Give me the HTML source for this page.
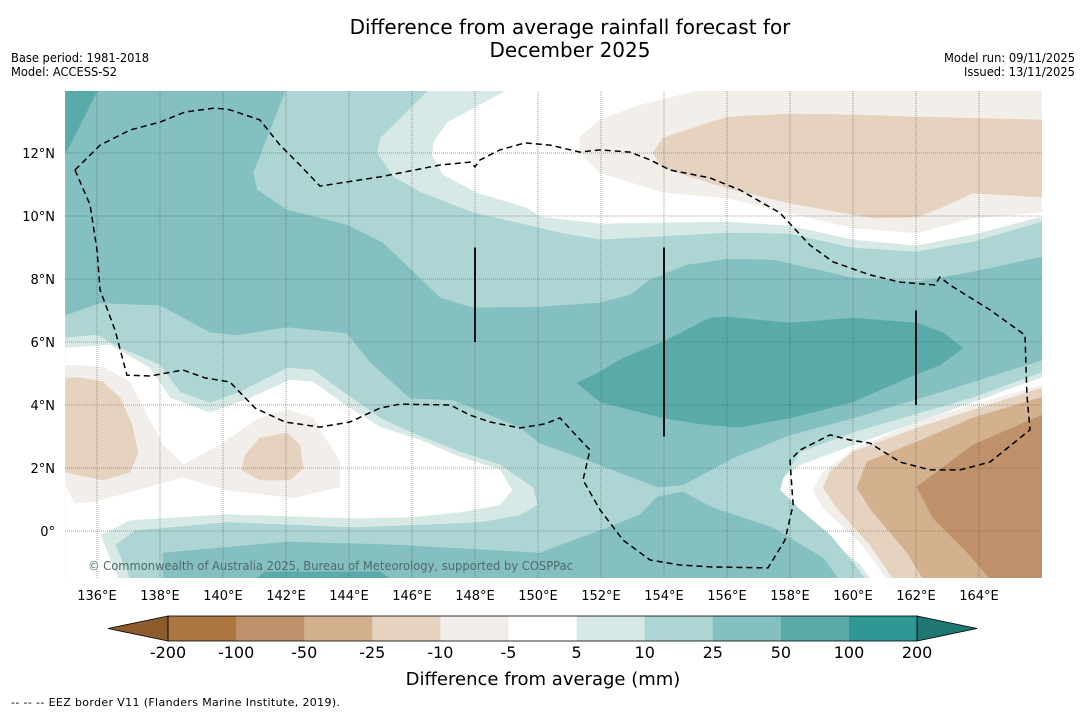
<!DOCTYPE html>
<html><head><meta charset="utf-8">
<style>
html,body{margin:0;padding:0;background:#fff;}
body{width:1085px;height:713px;overflow:hidden;font-family:"Liberation Sans","DejaVu Sans",sans-serif;}
svg text{font-family:"DejaVu Sans","Liberation Sans",sans-serif;}
</style></head>
<body>
<svg id="fig" width="1085" height="713" viewBox="0 0 1085 713" xmlns="http://www.w3.org/2000/svg">
<text x="570" y="34" font-size="20" text-anchor="middle" fill="#000">Difference from average rainfall forecast for</text>
<text x="570" y="57" font-size="20" text-anchor="middle" fill="#000">December 2025</text>
<text x="11" y="62" font-size="12" textLength="138" lengthAdjust="spacingAndGlyphs" fill="#000">Base period: 1981-2018</text>
<text x="11" y="76" font-size="12" textLength="106" lengthAdjust="spacingAndGlyphs" fill="#000">Model: ACCESS-S2</text>
<text x="1075" y="62" font-size="12" text-anchor="end" textLength="131" lengthAdjust="spacingAndGlyphs" fill="#000">Model run: 09/11/2025</text>
<text x="1075" y="76" font-size="12" text-anchor="end" textLength="111" lengthAdjust="spacingAndGlyphs" fill="#000">Issued: 13/11/2025</text>
<defs><clipPath id="plotclip"><rect x="65" y="91" width="977" height="487"/></clipPath></defs>
<g id="map" clip-path="url(#plotclip)"></g>
<g id="axes"></g>
<g id="cbar"></g>
<text x="543" y="685" font-size="18" text-anchor="middle" fill="#000">Difference from average (mm)</text>
<text x="11" y="706" font-size="11" textLength="329" lengthAdjust="spacing" fill="#000">--  --  -- EEZ border V11 (Flanders Marine Institute, 2019).</text>
</svg>
<script>
// ---- data (lon/lat) ----
const lonTicks = [136,138,140,142,144,146,148,150,152,154,156,158,160,162,164];
const latTicks = [0,2,4,6,8,10,12];
const levels = [-200,-100,-50,-25,-10,-5,5,10,25,50,100,200];
const levelColors = ["#ab7640","#bf916a","#d3b18f","#e5d2bf","#f2eee9","#ffffff","#d6e9e7","#add5d4","#83c0bf","#59aaa9","#2f9794"];
const underColor = "#8d5c2c";
const overColor = "#1f7673";

const band5_10 = [[135,13.97],[148.95,13.97],[147.11,12.98],[146.67,12.35],[146.63,11.94],[146.98,11.3],[148.06,10.73],[149.65,10.25],[150.06,9.97],[151.97,9.75],[156,9.81],[158,9.68],[160,9.24],[162.03,9.05],[163.81,9.4],[166,9.97],[166,4.89],[163.81,4.1],[160,2.73],[158.32,2.1],[157.46,1.46],[158,0.83],[159.27,-0.29],[160.22,-1.08],[160.54,-1.51],[135,-1.51]];
const band10_25 = [[135,13.97],[146.48,13.97],[144.98,12.48],[144.89,12.0],[145.4,11.24],[146.25,10.76],[147.94,10.1],[149.65,9.71],[150.7,9.46],[151.97,9.24],[156,9.46],[158,9.43],[160,8.98],[162.03,8.86],[163.81,9.17],[166,9.81],[166,5.05],[163.81,4.25],[160,3.14],[158.32,2.51],[157.78,1.68],[157.68,1.3],[158.32,0.67],[159.27,-0.13],[160.06,-1.08],[160.38,-1.51],[135,-1.51]];
const holeLeft5_10 = [[135,6.13],[136,6.22],[136.73,5.81],[138,5.27],[138.63,4.41],[139.59,4.06],[140.54,4.41],[142.03,5.17],[142.86,5.11],[143.94,4.32],[144.98,3.59],[145.94,3.14],[147.52,2.51],[148.79,2.1],[149.84,1.37],[149.97,0.83],[149.43,0.51],[148.16,0.29],[145.94,0.19],[144.13,0.13],[140.13,0.29],[137.21,0.03],[136.57,-0.44],[137.05,-1.51],[135,-1.51]];
const holeLeftWhite = [[135,5.81],[136.41,5.9],[137.68,5.17],[138.32,4.22],[139.59,3.75],[140.86,4.22],[142.13,4.79],[142.86,4.73],[143.87,4.0],[144.98,3.3],[146.25,2.89],[147.52,2.35],[148.79,1.94],[149.17,1.3],[148.79,0.83],[147.52,0.6],[145.94,0.44],[144.13,0.41],[140.13,0.54],[137.05,0.35],[136.1,-0.13],[136.67,-1.51],[135,-1.51]];
const tanLeftLight = [[135,5.27],[136.19,5.21],[137.05,4.73],[137.62,3.59],[138.1,2.73],[138.73,2.1],[139.9,2.73],[141.17,3.59],[142.03,3.84],[142.86,3.59],[143.71,2.19],[143.71,1.4],[142.22,1.05],[140.13,1.3],[138.73,1.71],[135.87,0.92],[135.3,0.89],[135,1.46]];
const tanLeftMid = [[135,4.86],[135.46,4.86],[136.19,4.73],[136.73,4.22],[137.11,3.37],[137.3,2.48],[137.05,1.87],[136.19,1.62],[135,1.87]];
const tanBlobMid = [[140.7,2.41],[141.17,2.95],[142.03,3.11],[142.44,2.73],[142.54,2.0],[142.13,1.62],[141.17,1.62],[140.6,1.94]];
const band25_50 = [[135,13.97],[141.97,13.97],[140.95,11.37],[141.08,10.83],[142.03,10.19],[143.94,9.71],[145.08,9.14],[146.89,7.4],[147.94,7.08],[150.06,7.11],[151.97,7.24],[152.92,7.49],[153.56,7.97],[154.73,8.44],[156,8.63],[157.46,8.6],[160,8.03],[162.03,7.9],[163.81,8.22],[166,8.7],[166,5.43],[162.76,4.41],[160,3.59],[158,3.05],[156.19,2.32],[154.6,1.46],[153.78,1.4],[151.97,2.1],[150.06,2.79],[149.43,3.3],[147.3,4.16],[145.94,4.22],[144.67,5.37],[143.94,6.29],[142.03,6.48],[140.44,6.22],[139.59,6.32],[138,7.17],[136.1,7.24],[135,6.86]];
const band25_50South = [[138.1,-1.51],[138.1,-0.7],[142.03,-0.35],[145.4,-0.44],[150.06,-0.7],[152.19,0.1],[153.24,0.51],[153.78,1.08],[154.6,1.24],[155.56,0.73],[157.46,0.1],[159.05,-0.86],[159.52,-1.51]];
const band50_100 = [[151.24,4.7],[151.97,5.05],[152.7,5.49],[153.97,6.0],[155.46,6.76],[156,6.79],[158,6.6],[160,6.76],[162.03,6.6],[162.86,6.29],[163.49,5.81],[162.76,5.27],[161.71,4.86],[160,4.1],[158,3.59],[156.41,3.3],[155.37,3.37],[153.97,3.59],[151.97,4.1]];
const band50_100Corner = [[135,13.97],[136,13.97],[135.46,12.89],[135,12.0]];
const band50_100South = [[141.08,-1.51],[141.33,-1.3],[144.98,-1.3],[145.3,-1.51]];
const tanNorthLight = [[151.33,12.51],[151.97,13.05],[153.24,13.52],[155.05,13.97],[166,13.97],[166,10.13],[163.81,9.94],[162.03,9.46],[160,9.62],[158,10.1],[156,10.57],[153.97,10.76],[151.97,11.37],[151.33,12.03]];
const tanNorthMid = [[153.65,12.0],[153.97,12.48],[156,13.14],[158,13.24],[160,13.21],[162.03,13.14],[166,13.05],[166,10.6],[163.81,10.73],[162.76,10.25],[162.03,9.97],[160.63,9.94],[158,10.41],[156,10.89],[153.97,11.52]];
const tanSE1 = [[166,4.63],[163.81,4.0],[162.03,3.46],[160,2.57],[159.05,1.87],[158.73,1.3],[159.05,0.73],[160.22,-0.35],[161.08,-1.51],[166,-1.51]];
const tanSE2 = [[166,4.54],[162.03,3.27],[160,2.51],[159.27,1.87],[159.05,1.37],[159.49,0.73],[160.54,-0.44],[161.27,-1.51],[166,-1.51]];
const tanSE3 = [[166,4.25],[163.81,3.59],[162.03,2.83],[160.44,2.19],[160.13,1.37],[160.63,0.6],[161.71,-0.67],[162.22,-1.51],[166,-1.51]];
const tanSE4 = [[166,3.68],[163.81,2.73],[162.03,1.4],[162.54,0.41],[163.62,-0.67],[164.35,-1.51],[166,-1.51]];
const eezBorder = [[135.3,11.46],[135.78,10.35],[136,8.92],[136.1,7.65],[136.57,6.38],[136.95,4.95],[137.68,4.92],[138.73,5.11],[139.43,4.86],[140.22,4.73],[141.02,3.9],[141.97,3.46],[143.08,3.3],[144.03,3.46],[144.98,3.9],[145.62,4.03],[147.21,4.0],[147.84,3.68],[148.48,3.46],[149.43,3.27],[150.22,3.4],[150.7,3.59],[151.11,3.14],[151.65,2.57],[151.43,1.62],[151.97,0.67],[152.7,-0.29],[153.56,-0.92],[154.51,-1.08],[155.46,-1.14],[157.3,-1.17],[157.84,-0.29],[158.1,0.83],[158,2.25],[158.32,2.57],[159.27,3.05],[159.9,2.89],[160.54,2.79],[161.49,2.19],[162.44,1.94],[163.4,1.94],[164.35,2.19],[165.62,3.21],[165.52,4.32],[165.46,6.22],[164.35,7.02],[163.08,7.81],[162.76,8.06],[162.6,7.81],[161.49,7.9],[160.54,8.13],[159.37,8.54],[158.63,9.08],[157.68,10.1],[156.41,10.83],[155.46,11.21],[154.19,11.46],[153.56,11.78],[152.92,12.03],[151.97,12.1],[151.33,12.03],[150.38,12.25],[149.59,12.32],[148.79,12.1],[148.16,11.78],[148.0,11.56],[147.84,11.71],[146.89,11.62],[144.98,11.24],[143.08,10.95],[142.44,11.62],[141.81,12.25],[141.17,13.05],[140.22,13.37],[139.75,13.43],[138.79,13.3],[138,12.98],[137.05,12.73],[136.1,12.25],[135.3,11.46]];
const borderLon = [148,154,162];
const borderLatTop = [9.0,9.0,7.0];
const borderLatBottom = [6.0,3.0,4.0];

// ---- axis functions ----
const X0 = 65.5, Y0 = 531, K = 31.5;
function xOf(lon){ return X0 + (lon-135)*K; }
function yOf(lat){ return Y0 - lat*K; }
const NS = "http://www.w3.org/2000/svg";
function pts(arr){ return arr.map(p => xOf(p[0]).toFixed(1)+","+yOf(p[1]).toFixed(1)).join(" "); }

const map = document.getElementById("map");
const bg = document.createElementNS(NS,"rect");
bg.setAttribute("x",65); bg.setAttribute("y",91); bg.setAttribute("width",977); bg.setAttribute("height",487); bg.setAttribute("fill","#fff");


map.appendChild(bg);

function poly(arr, fill, name){
  const p = document.createElementNS(NS,"polygon");
  p.setAttribute("points", pts(arr));
  p.setAttribute("fill", fill);
  p.setAttribute("stroke", fill);
  p.setAttribute("stroke-width", "0.6");
  
  
  map.appendChild(p);
}
const C = levelColors;
poly(band5_10, C[6], "contour-5-to-10");
poly(band10_25, C[7], "contour-10-to-25");
poly(holeLeft5_10, C[6], "contour-5-to-10-west");
poly(holeLeftWhite, C[5], "contour-neutral-west");
poly(tanLeftLight, C[4], "contour-minus10-to-minus5-west");
poly(tanLeftMid, C[3], "contour-minus25-to-minus10-west");
poly(tanBlobMid, C[3], "contour-minus25-to-minus10-central");
poly(band25_50, C[8], "contour-25-to-50");
poly(band25_50South, C[8], "contour-25-to-50-south");
poly(band50_100, C[9], "contour-50-to-100");
poly(band50_100Corner, C[9], "contour-50-to-100-northwest");
poly(band50_100South, C[9], "contour-50-to-100-south");
poly(tanNorthLight, C[4], "contour-minus10-to-minus5-north");
poly(tanNorthMid, C[3], "contour-minus25-to-minus10-north");
poly(tanSE1, C[4], "contour-minus10-to-minus5-southeast");
poly(tanSE2, C[3], "contour-minus25-to-minus10-southeast");
poly(tanSE3, C[2], "contour-minus50-to-minus25-southeast");
poly(tanSE4, C[1], "contour-minus100-to-minus50-southeast");

// gridlines
lonTicks.forEach(lon => {
  const l = document.createElementNS(NS,"line");
  l.setAttribute("x1",xOf(lon)); l.setAttribute("x2",xOf(lon)); l.setAttribute("y1",91); l.setAttribute("y2",578);
  l.setAttribute("stroke","#555"); l.setAttribute("stroke-opacity","0.55"); l.setAttribute("stroke-width","1"); l.setAttribute("stroke-dasharray","1 1");
  
  
  map.appendChild(l);
});
latTicks.forEach(lat => {
  const l = document.createElementNS(NS,"line");
  l.setAttribute("x1",65); l.setAttribute("x2",1042); l.setAttribute("y1",yOf(lat)); l.setAttribute("y2",yOf(lat));
  l.setAttribute("stroke","#666"); l.setAttribute("stroke-opacity","0.6"); l.setAttribute("stroke-width","1"); l.setAttribute("stroke-dasharray","1 1");
  
  
  map.appendChild(l);
});

// EEZ border
const eez = document.createElementNS(NS,"polyline");
eez.setAttribute("points", pts(eezBorder));
eez.setAttribute("fill","none"); eez.setAttribute("stroke","#000"); eez.setAttribute("stroke-width","1.5"); eez.setAttribute("stroke-dasharray","6 4");


map.appendChild(eez);

borderLon.forEach((lon,i) => {
  const l = document.createElementNS(NS,"line");
  l.setAttribute("x1",xOf(lon)); l.setAttribute("x2",xOf(lon)); l.setAttribute("y1",yOf(borderLatTop[i])); l.setAttribute("y2",yOf(borderLatBottom[i]));
  l.setAttribute("stroke","#111"); l.setAttribute("stroke-width","2");
  
  
  map.appendChild(l);
});

const copy = document.createElementNS(NS,"text");
copy.setAttribute("x",88); copy.setAttribute("y",570); copy.setAttribute("font-size","12"); copy.setAttribute("fill","#4f6a69");
copy.setAttribute("textLength","485"); copy.setAttribute("lengthAdjust","spacingAndGlyphs");
copy.textContent = "© Commonwealth of Australia 2025, Bureau of Meteorology, supported by COSPPac";


map.appendChild(copy);

// axes labels
const axes = document.getElementById("axes");
lonTicks.forEach(lon => {
  const t = document.createElementNS(NS,"text");
  t.setAttribute("x",xOf(lon)); t.setAttribute("y",600); t.setAttribute("font-size","13"); t.setAttribute("text-anchor","middle");
  t.textContent = lon + "°E";
  
  
  axes.appendChild(t);
});
latTicks.forEach(lat => {
  const t = document.createElementNS(NS,"text");
  t.setAttribute("x",55); t.setAttribute("y",yOf(lat)+5); t.setAttribute("font-size","13"); t.setAttribute("text-anchor","end");
  t.textContent = lat === 0 ? "0°" : lat + "°N";
  
  
  axes.appendChild(t);
});

// colorbar
const cb = document.getElementById("cbar");
const cbX0 = 168, cbW = 68.1, cbY = 616, cbH = 25;
function cbx(i){ return cbX0 + i*cbW; }
for (let i=0;i<levelColors.length;i++){
  const r = document.createElementNS(NS,"rect");
  r.setAttribute("x",cbx(i)); r.setAttribute("y",cbY); r.setAttribute("width",cbW+0.5); r.setAttribute("height",cbH); r.setAttribute("fill",levelColors[i]);
  
  
  cb.appendChild(r);
}
const triL = document.createElementNS(NS,"polygon");
triL.setAttribute("points", cbx(0)+","+cbY+" "+(cbx(0)-60)+","+(cbY+cbH/2)+" "+cbx(0)+","+(cbY+cbH));
triL.setAttribute("fill",underColor); triL.setAttribute("stroke","#000"); triL.setAttribute("stroke-width","0.8");


cb.appendChild(triL);
const n = levelColors.length;
const triR = document.createElementNS(NS,"polygon");
triR.setAttribute("points", cbx(n)+","+cbY+" "+(cbx(n)+60)+","+(cbY+cbH/2)+" "+cbx(n)+","+(cbY+cbH));
triR.setAttribute("fill",overColor); triR.setAttribute("stroke","#000"); triR.setAttribute("stroke-width","0.8");


cb.appendChild(triR);
const frame = document.createElementNS(NS,"rect");
frame.setAttribute("x",cbx(0)); frame.setAttribute("y",cbY); frame.setAttribute("width",cbx(n)-cbx(0)); frame.setAttribute("height",cbH);
frame.setAttribute("fill","none"); frame.setAttribute("stroke","#000"); frame.setAttribute("stroke-width","0.8");


cb.appendChild(frame);
levels.forEach((v,i) => {
  const t = document.createElementNS(NS,"text");
  t.setAttribute("x",cbx(i)); t.setAttribute("y",658); t.setAttribute("font-size","16"); t.setAttribute("text-anchor","middle");
  t.textContent = String(v);
  
  
  cb.appendChild(t);
});
</script>
</body></html>
